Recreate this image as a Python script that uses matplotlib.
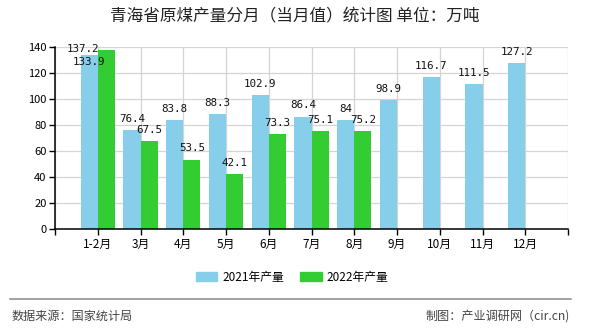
import numpy as np
import matplotlib
matplotlib.use('Agg')
import matplotlib.pyplot as plt
from matplotlib.lines import Line2D
from matplotlib.patches import Patch

plt.rcParams['font.family'] = ['Noto Sans CJK SC', 'DejaVu Sans']

months = ['1-2月', '3月', '4月', '5月', '6月', '7月', '8月', '9月', '10月', '11月', '12月']
prod_2021 = [133.9, 76.4, 83.8, 88.3, 102.9, 86.4, 84, 98.9, 116.7, 111.5, 127.2]
prod_2022 = [137.2, 67.5, 53.5, 42.1, 73.3, 75.1, 75.2]
yticks = [0, 20, 40, 60, 80, 100, 120, 140]

c21 = '#87ceeb'
c22 = '#33cc33'

fig = plt.figure(figsize=(5.9, 3.3), dpi=100)
ax = fig.add_axes([55 / 590, 1 - 229.3 / 330, 513 / 590, 182.6 / 330])

x = np.arange(1, len(months) + 1)
w = 0.4
ax.bar(x - w / 2, prod_2021, w, color=c21, zorder=2)
ax.bar(x[:len(prod_2022)] + w / 2, prod_2022, w, color=c22, zorder=2)

vfont = dict(family='DejaVu Sans Mono', fontsize=7.8, color='#111111',
             ha='center', va='center', zorder=4)
for i, v in enumerate(prod_2021):
    off = (0, -5.5) if i == 0 else (0, 8)
    ax.annotate(f'{v:g}', (x[i] - w / 2, v), xytext=off,
                textcoords='offset points', **vfont)
for i, v in enumerate(prod_2022):
    off = (-17, 0.7) if i == 0 else (0, 8)
    ax.annotate(f'{v:g}', (x[i] + w / 2, v), xytext=off,
                textcoords='offset points', **vfont)

ax.set_xlim(0, 12)
ax.set_ylim(0, 140)
ax.set_xticks(np.arange(0, 13))
ax.set_xticklabels([''] + months + [''], fontsize=8.5)
ax.set_yticks(yticks)
ax.set_yticklabels([str(t) for t in yticks], fontsize=8)
ax.tick_params(axis='both', length=4, width=1, color='black', pad=2)
ax.grid(True, color='#d4d4d4', linewidth=0.9, zorder=0)
for s in ['top', 'right']:
    ax.spines[s].set_visible(False)
for s in ['left', 'bottom']:
    ax.spines[s].set_linewidth(1.1)
    ax.spines[s].set_zorder(3)

fig.text(0.5, 1 - 17 / 330, '青海省原煤产量分月（当月值）统计图 单位：万吨',
         ha='center', va='center', fontsize=12, color='#222222')

handles = [Patch(color=c21, label='2021年产量'), Patch(color=c22, label='2022年产量')]
fig.legend(handles=handles, loc='center', bbox_to_anchor=(0.495, 1 - 277 / 330),
           ncol=2, frameon=False, fontsize=8.5, handlelength=1.8, handleheight=0.75,
           handletextpad=0.4, columnspacing=1.4)

fig.add_artist(Line2D([10 / 590, 571 / 590], [1 - 298.5 / 330] * 2,
                      color='#888888', linewidth=1.1))
fig.text(12 / 590, 1 - 316.5 / 330, '数据来源：国家统计局', ha='left', va='center',
         fontsize=8.7, color='#444444')
fig.text(570 / 590, 1 - 316.5 / 330, '制图：产业调研网（cir.cn)', ha='right', va='center',
         fontsize=8.7, color='#444444')

fig.savefig('out.png', dpi=100)
